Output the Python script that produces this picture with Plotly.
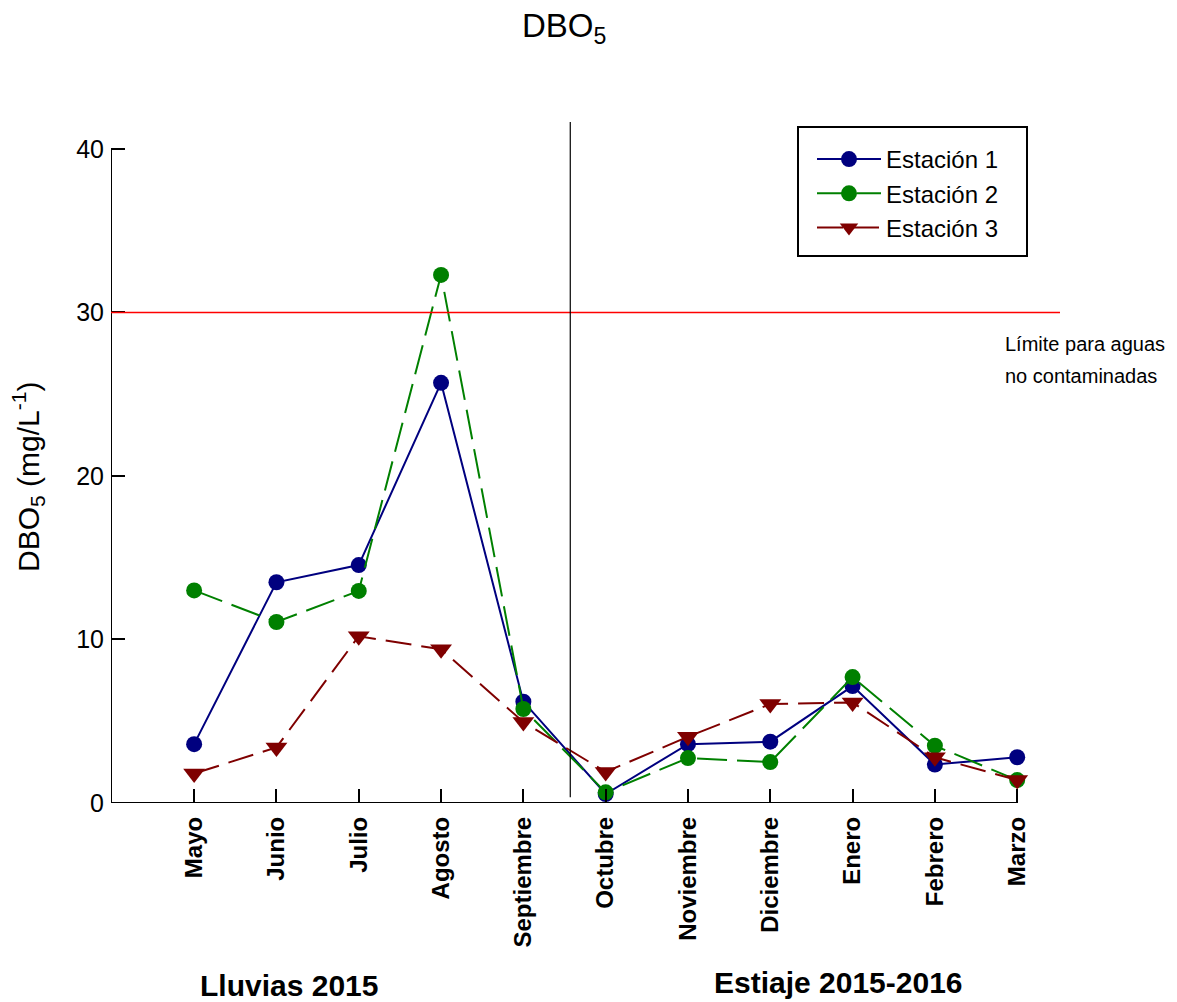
import plotly.graph_objects as go

# Months sampled (rainy season 2015, then dry season 2015-2016)
meses = ["Mayo", "Junio", "Julio", "Agosto", "Septiembre", "Octubre",
         "Noviembre", "Diciembre", "Enero", "Febrero", "Marzo"]

# DBO5 (mg/L) per station
estacion_1 = [3.6, 13.5, 14.55, 25.7, 6.2, 0.55, 3.6, 3.75, 7.15, 2.35, 2.8]
estacion_2 = [13.0, 11.07, 12.97, 32.3, 5.75, 0.65, 2.75, 2.5, 7.7, 3.5, 1.4]
estacion_3 = [1.8, 3.4, 10.2, 9.4, 4.95, 1.9, 4.05, 6.05, 6.15, 2.8, 1.4]

limite = 30          # limit for non-contaminated water
y_ticks = [0, 10, 20, 30, 40]

FONT = "Arial, Liberation Sans, sans-serif"
x_idx = list(range(len(meses)))
x_min, x_max = -1.01, 10.52
y_top = 41.65

# plot area in pixels: left 111, right 1060, top 122, bottom 803
PL, PW, PB, PH = 111, 949, 803, 681


def px(xp):
    return (xp - PL) / PW


def py(yp):
    return (PB - yp) / PH


fig = go.Figure()

fig.add_trace(go.Scatter(
    x=x_idx, y=estacion_1, name="Estación 1", mode="lines+markers",
    line=dict(color="#00007f", width=2),
    marker=dict(symbol="circle", size=16, color="#00007f", line=dict(width=0)),
))
fig.add_trace(go.Scatter(
    x=x_idx, y=estacion_2, name="Estación 2", mode="lines+markers",
    line=dict(color="#008000", width=2, dash="30px,10px"),
    marker=dict(symbol="circle", size=16, color="#008000", line=dict(width=0)),
))
fig.add_trace(go.Scatter(
    x=x_idx, y=estacion_3, name="Estación 3", mode="lines+markers",
    line=dict(color="#7f0000", width=2, dash="26px,10px"),
    marker=dict(symbol="triangle-down", size=19, color="#7f0000", line=dict(width=0)),
))

shapes = [
    # axis lines
    dict(type="line", xref="x", yref="y", x0=x_min, x1=x_min, y0=0, y1=40,
         line=dict(color="black", width=2)),
    dict(type="line", xref="x", yref="y", x0=x_min, x1=10, y0=0, y1=0,
         line=dict(color="black", width=2)),
    # limit line
    dict(type="line", xref="x", yref="y", x0=x_min, x1=x_max, y0=limite, y1=limite,
         line=dict(color="red", width=1.5)),
    # season separator
    dict(type="line", xref="x", yref="y", x0=4.57, x1=4.57, y0=0.35, y1=y_top,
         line=dict(color="black", width=1.2)),
    # legend frame
    dict(type="rect", xref="paper", yref="paper",
         x0=px(798), x1=px(1027), y0=py(256), y1=py(127),
         line=dict(color="black", width=2), fillcolor="white", layer="below"),
]

annotations = [
    dict(text="DBO<sub>5</sub>", xref="paper", yref="paper",
         x=px(564), y=py(28), xanchor="center", yanchor="middle",
         showarrow=False, font=dict(family=FONT, size=33, color="black")),
    dict(text="DBO<sub>5</sub> (mg/L<sup>-1</sup>)", xref="paper", yref="paper",
         x=px(28), y=py(477), xanchor="center", yanchor="middle",
         textangle=-90, showarrow=False, font=dict(family=FONT, size=30, color="black")),
    dict(text="Límite para aguas", xref="paper", yref="paper",
         x=px(1003), y=py(344), xanchor="left", yanchor="middle",
         showarrow=False, font=dict(family=FONT, size=20, color="black")),
    dict(text="no contaminadas", xref="paper", yref="paper",
         x=px(1003), y=py(376), xanchor="left", yanchor="middle",
         showarrow=False, font=dict(family=FONT, size=20, color="black")),
    dict(text="<b>Lluvias 2015</b>", xref="paper", yref="paper",
         x=px(289), y=py(985), xanchor="center", yanchor="middle",
         showarrow=False, font=dict(family=FONT, size=30, color="black")),
    dict(text="<b>Estiaje 2015-2016</b>", xref="paper", yref="paper",
         x=px(838), y=py(982), xanchor="center", yanchor="middle",
         showarrow=False, font=dict(family=FONT, size=30, color="black")),
]

fig.update_layout(
    width=1177, height=1002,
    margin=dict(l=111, r=117, t=122, b=199, pad=0),
    plot_bgcolor="white", paper_bgcolor="white",
    font=dict(family=FONT, color="black"),
    showlegend=True,
    legend=dict(
        x=px(812), y=py(137), xanchor="left", yanchor="top",
        bgcolor="rgba(0,0,0,0)", borderwidth=0,
        font=dict(family=FONT, size=24, color="black"),
        itemwidth=64, tracegroupgap=0,
    ),
    xaxis=dict(
        range=[x_min, x_max], showgrid=False, zeroline=False, showline=False,
        tickmode="array", tickvals=x_idx,
        ticktext=[f"<b>{m}</b>" for m in meses],
        tickangle=-90, ticks="inside", ticklen=14, tickwidth=2, tickcolor="black",
        ticklabelstandoff=8,
        tickfont=dict(family=FONT, size=24, color="black"),
    ),
    yaxis=dict(
        range=[0, y_top], showgrid=False, zeroline=False, showline=False,
        tickmode="array", tickvals=y_ticks,
        ticks="inside", ticklen=14, tickwidth=2, tickcolor="black",
        ticklabelstandoff=6,
        tickfont=dict(family=FONT, size=25, color="black"),
    ),
    shapes=shapes,
    annotations=annotations,
)

fig.write_html("out.html")
